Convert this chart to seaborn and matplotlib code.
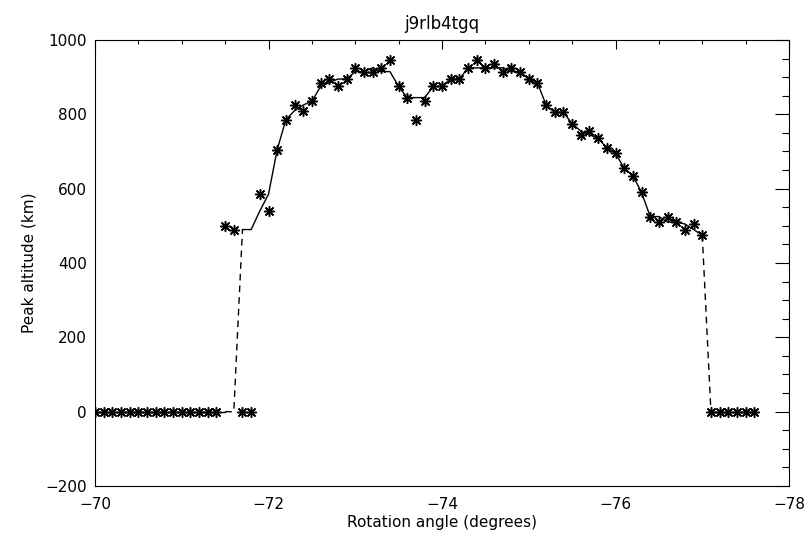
import numpy as np
import pandas as pd
import matplotlib
matplotlib.use('Agg')
import matplotlib.pyplot as plt
import seaborn as sns
from matplotlib.ticker import MultipleLocator

# rotation angles, 0.1 deg steps from -70.0 to -77.6
angle = np.round(np.linspace(-70.0, -77.6, 77), 1)

# measured peak altitude (stars)
peak = [0, 0, 0, 0, 0, 0, 0, 0, 0, 0, 0, 0, 0, 0, 0,
        500, 490, 0, 0, 585, 540, 705, 785, 825, 810, 835, 885, 895, 875, 895,
        925, 915, 915, 925, 945, 875, 845, 785, 835, 875, 875, 895, 895, 925, 945,
        925, 935, 915, 925, 915, 895, 885, 825, 805, 805, 775, 745, 755, 735, 710,
        695, 655, 635, 590, 525, 510, 525, 510, 490, 505, 475,
        0, 0, 0, 0, 0, 0]

# smoothed curve (line)
smooth = [0, 0, 0, 0, 0, 0, 0, 0, 0, 0, 0, 0, 0, 0, 0,
          0, 0, 490, 490, 540, 585, 705, 785, 810, 825, 835, 875, 885, 895, 895,
          915, 915, 925, 915, 915, 875, 845, 845, 845, 875, 875, 895, 895, 925, 925,
          925, 925, 925, 915, 915, 895, 885, 825, 805, 805, 775, 755, 745, 735, 710,
          695, 655, 635, 590, 525, 525, 510, 510, 505, 490, 475,
          0, 0, 0, 0, 0, 0]

df = pd.DataFrame({'angle': angle, 'peak': peak, 'smooth': smooth})

sns.set_style('white')
plt.rcParams['font.family'] = ['DejaVu Sans']
plt.rcParams['text.color'] = 'black'
plt.rcParams['axes.labelcolor'] = 'black'

fig = plt.figure(figsize=(8.11, 5.48), dpi=100)
ax = fig.add_axes([95 / 811, 1 - 486 / 548, 694 / 811, 446 / 548])

# solid pieces and dashed jumps of the smoothed curve
solid1 = df[(df.angle <= -70.0) & (df.angle >= -71.5)]
dash1 = df[(df.angle <= -71.5) & (df.angle >= -71.7)]
solid2 = df[(df.angle <= -71.7) & (df.angle >= -77.0)]
dash2 = df[(df.angle <= -77.0) & (df.angle >= -77.1)]
solid3 = df[df.angle <= -77.1]

for part in [solid1, solid2, solid3]:
    sns.lineplot(x='angle', y='smooth', data=part, ax=ax, color='black',
                 linewidth=1.0, sort=False, estimator=None)
for part in [dash1, dash2]:
    sns.lineplot(x='angle', y='smooth', data=part, ax=ax, color='black',
                 linewidth=1.0, sort=False, estimator=None, dashes=False,
                 linestyle=(0, (4.8, 3.6)))

sns.scatterplot(x='angle', y='peak', data=df, ax=ax, marker=(8, 2, 0),
                s=50, color='black', linewidth=1.1)

ax.set_xlim(-70, -78)
ax.set_ylim(-200, 1000)
ax.xaxis.set_major_locator(MultipleLocator(2))
ax.xaxis.set_minor_locator(MultipleLocator(0.5))
ax.yaxis.set_major_locator(MultipleLocator(200))
ax.yaxis.set_minor_locator(MultipleLocator(50))

ax.tick_params(axis='both', which='both', direction='in', top=True, right=True,
               colors='black', width=0.8, labelsize=11)
ax.tick_params(axis='x', which='major', length=6.5, pad=8)
ax.tick_params(axis='x', which='minor', length=3.2)
ax.tick_params(axis='y', which='major', length=10, pad=6)
ax.tick_params(axis='y', which='minor', length=5)

for s in ax.spines.values():
    s.set_color('black')
    s.set_linewidth(0.8)

ax.set_xlabel('Rotation angle (degrees)', fontsize=11, labelpad=2, color='black')
ax.set_ylabel('Peak altitude (km)', fontsize=11, labelpad=6, color='black')
ax.set_title('j9rlb4tgq', fontsize=12, pad=8, color='black')

plt.savefig('out.png', dpi=100)
